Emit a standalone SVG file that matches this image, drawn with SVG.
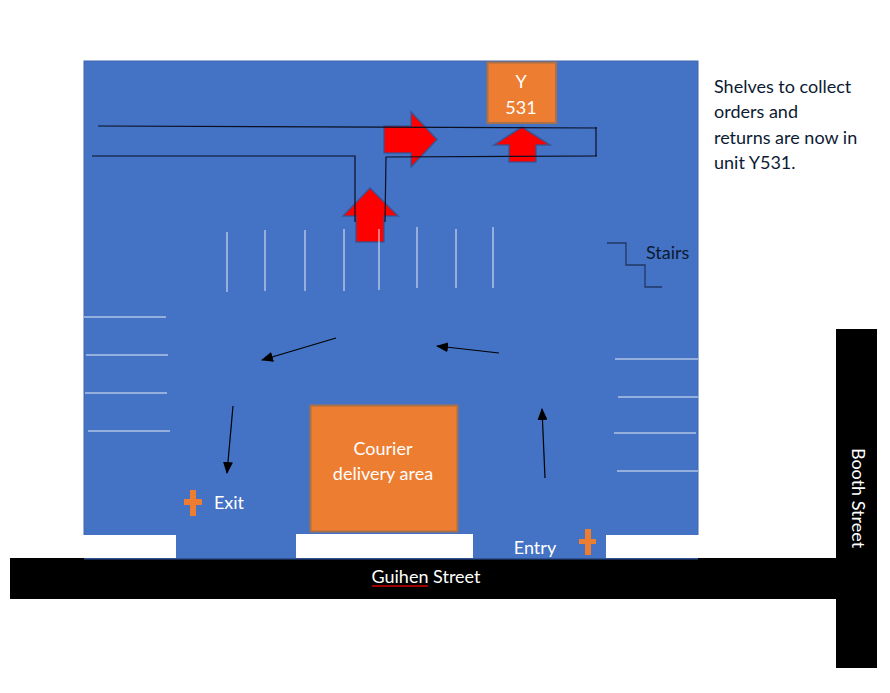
<svg xmlns="http://www.w3.org/2000/svg" width="890" height="693" viewBox="0 0 890 693">
<defs>
<marker id="ah" markerWidth="12" markerHeight="10" refX="11" refY="5" orient="auto" markerUnits="userSpaceOnUse"><path d="M0 0L12 5L0 10Z" fill="#000"/></marker>
</defs>
<style>
text{font-family:"Lato","Carlito","Liberation Sans",sans-serif;font-size:18px}
.t{fill:#fff;text-anchor:middle}
.d{fill:#0c1a33}
.box{fill:#ed7d31;stroke:#a9714a;stroke-width:2}
.red{fill:#ff0000;stroke:#2f5597;stroke-width:1.5;stroke-opacity:.8}
.w{stroke:#e6ecf7;stroke-width:1;fill:none}
.k{stroke:#0a0f22;stroke-width:1.2;fill:none}
.a{stroke:#000;stroke-width:1.2;fill:none;marker-end:url(#ah)}
.cross{fill:#ed7d31}
</style>
<g id="site"><rect x="84" y="61" width="614" height="498" fill="#4472c4" stroke="#3f66ad" stroke-width="1"/></g>
<g id="streets">
<rect x="10" y="558" width="826" height="41" fill="#000"/>
<rect x="836" y="329" width="41" height="339" fill="#000"/>
<rect x="84" y="558" width="614" height="1.500" fill="#2f5597"/>
</g>
<g id="kerbs" fill="#fff">
<rect x="83" y="535" width="93" height="23"/>
<rect x="296" y="534" width="177" height="24"/>
<rect x="606" y="535" width="93" height="23"/>
</g>
<g id="arrow-right"><path class="red" d="M384 126H411V112L437 139.500L411 167V153H384Z"/></g>
<g id="arrow-up-y531"><path class="red" d="M522 127L550 145H536V162H509V145H494Z"/></g>
<g id="arrow-up-main"><path class="red" d="M370 188L398 216H384V242H356V216H343Z"/></g>
<g id="parking">
<path class="w" d="M227 232V292M265 230V291M305 230V291M344 229V291M379 229V290M417 227V288M456 229V288M493 227V288"/>
<path class="w" d="M84 317H166M86 355H168M85 393H167M88 431H170"/>
<path class="w" d="M615 359H698M618 397H698M614 433H696M617 471H698"/>
</g>
<g id="connectors">
<path class="k" d="M98 126L597 128M92 156H355V222M385 222L386 157L597 156M596 127V156"/>
<path class="a" d="M336 338L262 360"/>
<path class="a" d="M499 353L437 346"/>
<path class="a" d="M545 478L542 409"/>
<path class="a" d="M233 406L227 473"/>
</g>
<g id="unit-y531">
<rect class="box" x="487.500" y="62.500" width="68.500" height="60.500"/>
<text class="t" x="521" y="88">Y</text>
<text class="t" x="521" y="114">531</text>
</g>
<g id="courier">
<rect class="box" x="310.500" y="405.500" width="147" height="126"/>
<text class="t" x="383" y="455">Courier</text>
<text class="t" x="383" y="480">delivery area</text>
</g>
<g id="exit">
<path class="cross" d="M190 490H196V499H202V505H196V516H190V505H184V499H190Z"/>
<text class="t" x="229" y="509">Exit</text>
</g>
<g id="entry">
<path class="cross" d="M585 529H591V539H596V544H591V555H585V544H579V539H585Z"/>
<text class="t" x="535" y="554">Entry</text>
</g>
<g id="stairs">
<path d="M607 243H626V265H645V287H662" fill="none" stroke="#1f3864" stroke-width="1.300"/>
<text class="d" x="646" y="259">Stairs</text>
</g>
<g id="note">
<text class="d" x="714" y="93">Shelves to collect</text>
<text class="d" x="714" y="118">orders and</text>
<text class="d" x="714" y="144">returns are now in</text>
<text class="d" x="714" y="169">unit Y531.</text>
</g>
<g id="guihen">
<text class="t" x="426" y="583">Guihen Street</text>
<path d="M372 586H428" stroke="#d00000" stroke-width="1.500" fill="none"/>
</g>
<g id="booth"><text class="t" transform="translate(852 498) rotate(90)">Booth Street</text></g>
</svg>
